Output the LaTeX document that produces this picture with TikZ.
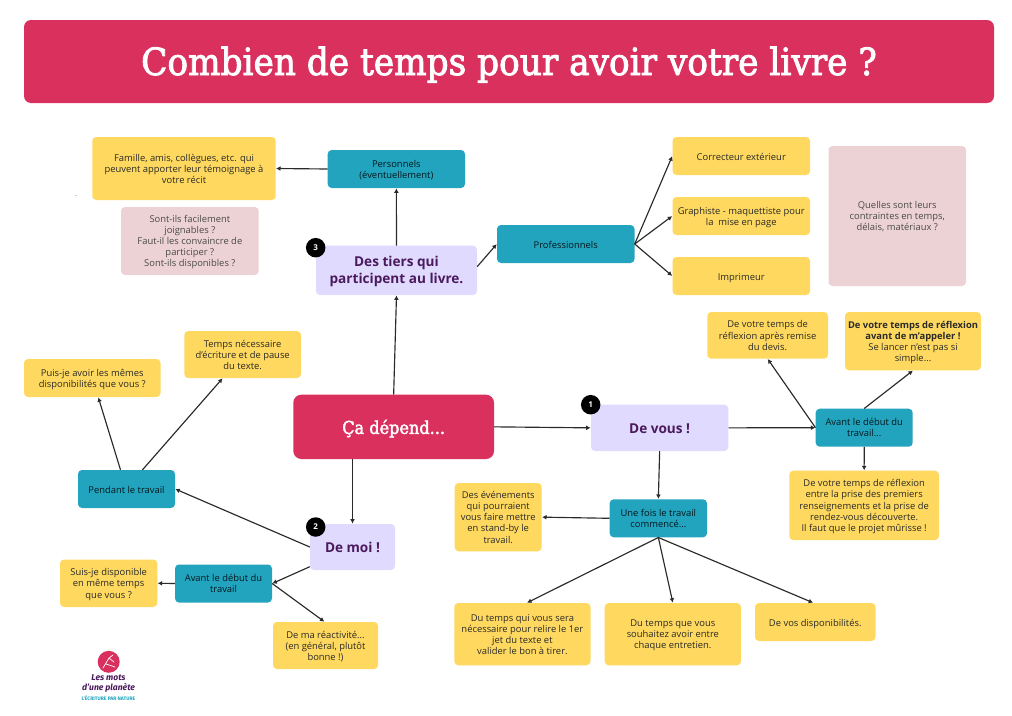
\documentclass[tikz,border=0pt]{standalone}
\usepackage{fontspec}
\setmainfont{Open Sans}
\newfontfamily\titlefont[FakeStretch=0.915,FakeBold=2.2]{DejaVu Serif}
\newfontfamily\logofont{Fira Sans}
\usetikzlibrary{arrows.meta,calc}
\definecolor{crimson}{HTML}{D9305E}
\definecolor{sun}{HTML}{FFD95F}
\definecolor{teal1}{HTML}{22A4BF}
\definecolor{rose}{HTML}{EDD2D5}
\definecolor{lav}{HTML}{E0DAFF}
\definecolor{plum}{HTML}{4A1A5C}
\definecolor{ink}{HTML}{2A2A28}
\tikzset{
  base/.style={rounded corners=4pt,align=center,inner sep=0pt,font=\fontsize{9.4}{11.1}\selectfont,text=ink,
    execute at begin node=\strut,execute at end node=\strut},
  yellowbox/.style={base,fill=sun},
  tealbox/.style={base,fill=teal1,text=black!85!teal1},
  rosebox/.style={base,fill=rose,text=ink!85!white},
  lavbox/.style={base,fill=lav,text=plum,font=\fontsize{13.6}{16.9}\selectfont\bfseries},
  redbox/.style={base,fill=crimson,text=white},
  badge/.style={circle,fill=black,text=white,minimum size=19.5pt,inner sep=0pt,font=\fontsize{8}{9}\selectfont\bfseries},
  link/.style={draw=ink,line width=1.15pt,-{Latex[length=4.4pt,width=4.8pt]},shorten >=0.2pt}
}
\newcommand\bx[6]{\node[#1,minimum width={(#5-#3)*1pt},minimum height={(#6-#4)*1pt}] (#2) at ({(#3+#5)/2},{(#4+#6)/2}) {};
  \node[#1,fill=none,yshift=-1.8pt] (#2-text) at (#2.center)}
\begin{document}
\begin{tikzpicture}[x=1pt,y=-1pt]
\useasboundingbox (0,0) rectangle (1012,715);
\fill[white] (0,0) rectangle (1012,715);
\bx{redbox,rounded corners=7pt}{title}{24}{20}{994}{103} {\titlefont\fontsize{37.5}{42}\selectfont\raisebox{-9.5pt}[0pt][0pt]{Combien de temps pour avoir votre livre ?}};
\bx{redbox,rounded corners=8pt}{depend}{293.3}{394.7}{494}{459} {\titlefont\fontsize{17.6}{20}\selectfont Ça dépend...};
% third-party branch
\bx{yellowbox}{famille}{92.3}{137}{275.7}{200} {Famille, amis, collègues, etc. qui\\peuvent apporter leur témoignage à\\votre récit};
\bx{tealbox}{perso}{327.7}{150}{465}{188} {Personnels\\(éventuellement)};
\bx{rosebox}{sont}{121}{207}{258.7}{275} {Sont-ils facilement\\joignables ?\\Faut-il les convaincre de\\participer ?\\Sont-ils disponibles ?};
\bx{lavbox}{tiers}{316}{245.7}{477}{295} {Des tiers qui\\participent au livre.};
\bx{tealbox}{pro}{497}{225}{634.5}{263} {Professionnels};
\bx{yellowbox}{corr}{672.5}{137}{810}{175} {Correcteur extérieur};
\bx{yellowbox}{graph}{672.5}{197}{810}{235} {Graphiste - maquettiste pour\\la\ \ mise en page};
\bx{yellowbox}{impr}{672.5}{257}{810}{295} {Imprimeur};
\bx{rosebox}{quelles}{828.5}{146}{966}{286} {Quelles sont leurs\\contraintes en temps,\\délais, matériaux ?};
% first branch
\bx{lavbox}{vous}{591}{404.7}{728.3}{451} {De vous !};
\bx{tealbox}{avantv}{815.7}{408.7}{912.7}{446.7} {Avant le début du\\travail...};
\bx{yellowbox}{apres}{707.3}{312}{828}{358.7} {De votre temps de\\réflexion après remise\\du devis.};
\bx{yellowbox}{appel}{845}{312}{981}{370.3} {\textbf{De votre temps de réflexion}\\\textbf{avant de m’appeler !}\\Se lancer n’est pas si\\simple...};
\bx{yellowbox}{entre}{789.3}{470.7}{939}{540} {De votre temps de réflexion\\entre la prise des premiers\\renseignements et la prise de\\rendez-vous découverte.\\Il faut que le projet mûrisse !};
\bx{tealbox}{unefois}{609.7}{499.3}{707}{537.3} {Une fois le travail\\commencé...};
\bx{yellowbox}{events}{454.7}{483}{541.7}{551.3} {Des événements\\qui pourraient\\vous faire mettre\\en stand-by le\\travail.};
\bx{yellowbox}{relire}{454.3}{603}{590.5}{665.3} {Du temps qui vous sera\\nécessaire pour relire le 1er\\jet du texte et\\valider le bon à tirer.};
\bx{yellowbox}{entretien}{604.7}{603}{741}{665.3} {Du temps que vous\\souhaitez avoir entre\\chaque entretien.};
\bx{yellowbox}{dispo}{755}{603}{875.5}{641} {De vos disponibilités.};
% second branch
\bx{lavbox}{moi}{310}{524}{395}{570} {De moi !};
\bx{tealbox}{pendant}{78}{470}{175}{508} {Pendant le travail};
\bx{yellowbox}{memes}{24}{359}{160.5}{397} {Puis-je avoir les mêmes\\disponibilités que vous ?};
\bx{yellowbox}{pause}{184.3}{331}{301}{378} {Temps nécessaire\\d’écriture et de pause\\du texte.};
\bx{tealbox}{avantm}{175}{564.5}{272}{602.5} {Avant le début du\\travail};
\bx{yellowbox}{suis}{60}{559.5}{157.3}{607} {Suis-je disponible\\en même temps\\que vous ?};
\bx{yellowbox}{reac}{273}{622}{378}{669} {De ma réactivité...\\(en général, plutôt\\bonne !)};
% badges
\node[badge] (b3) at (315.7,247.7) {3};
\node[badge] (b1) at (590.7,404.7) {1};
\node[badge] (b2) at (315.7,527) {2};
% connectors
\draw[link] (depend.north) -- (tiers.south);
\draw[link] (tiers.north) -- (perso.south);
\draw[link] (perso.west) -- (famille.east);
\draw[link] ([yshift=3.7pt]tiers.east) -- (pro.west);
\draw[link] (pro.east) -- (corr.west);
\draw[link] (pro.east) -- (graph.west);
\draw[link] (pro.east) -- (impr.west);
\draw[link] (depend.east) -- (vous.west);
\draw[link] (vous.east) -- (avantv.west);
\draw[link] (avantv.west) -- (apres.south);
\draw[link] (avantv.north) -- (appel.south);
\draw[link] (avantv.south) -- (entre.north);
\draw[link] (vous.south) -- (unefois.north);
\draw[link] (unefois.west) -- (events.east);
\draw[link] (unefois.south) -- ([xshift=4.5pt]relire.north);
\draw[link] (unefois.south) -- (entretien.north);
\draw[link] (unefois.south) -- ([xshift=-2pt]dispo.north);
\draw[link] (moi.north |- depend.south) -- (moi.north);
\draw[link] (moi.west) -- (pendant.east);
\draw[link] ([yshift=-19.7pt]moi.west) -- (avantm.east);
\draw[link] (avantm.east) -- ([xshift=-1pt]reac.north);
\draw[link] (avantm.west) -- (suis.east);
\draw[link] ([xshift=-6pt]pendant.north) -- ([xshift=6pt]memes.south);
\draw[link] ([xshift=16pt]pendant.north) -- ([xshift=-20pt]pause.south);
% stray speck
\fill[black!60] (76,195.3) circle (0.5pt);
% logo
\fill[crimson] (108.7,661.8) circle (11);
\fill[sun] (109,649.5) circle (0.7);
\draw[white,line width=0.7pt,line cap=round] (103,668) -- (109,658) -- (113,655) (106,664) -- (115,667) (109,658) -- (114,662);
\node[text=plum,inner sep=0pt,align=center,font=\logofont\fontsize{8.6}{9.4}\selectfont\itshape\bfseries] (logotext) at (108.5,683.5) {Les mots\\d’une planète};
\node[text=teal1,inner sep=0pt,font=\logofont\fontsize{5}{5}\selectfont\bfseries] (logotag) at (108.5,698.3) {L’ÉCRITURE PAR NATURE};
\end{tikzpicture}
\end{document}
